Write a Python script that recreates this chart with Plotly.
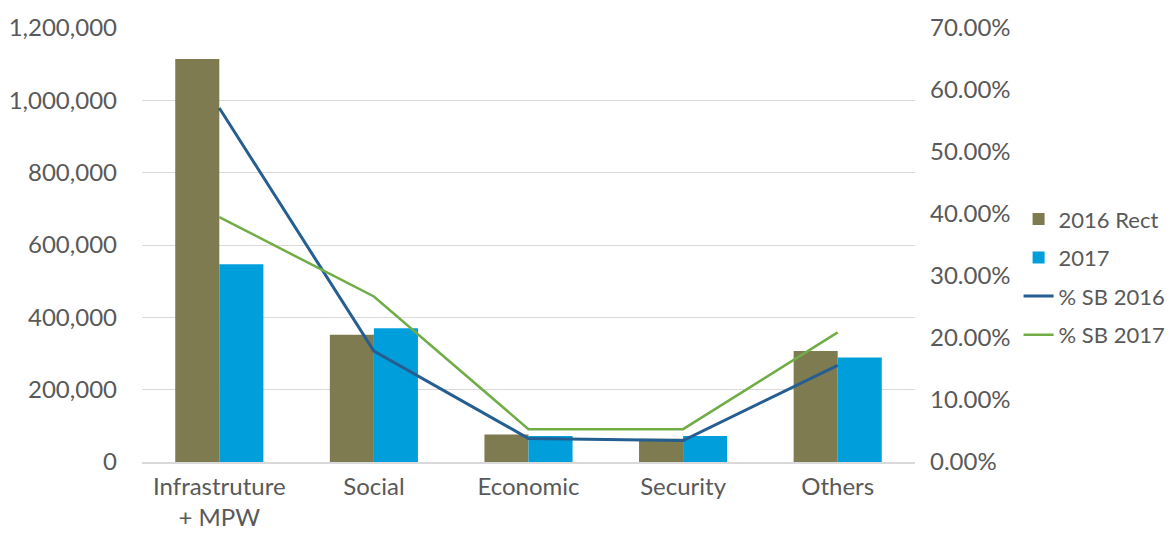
import plotly.graph_objects as go

categories = ["Infrastruture<br>+ MPW", "Social", "Economic", "Security", "Others"]
rect_2016 = [1114000, 352000, 76000, 64000, 307000]
budget_2017 = [547000, 370000, 72000, 72000, 289000]
pct_sb_2016 = [0.571, 0.179, 0.038, 0.0345, 0.156]
pct_sb_2017 = [0.395, 0.267, 0.053, 0.053, 0.209]

left_ticks = [0, 200000, 400000, 600000, 800000, 1000000, 1200000]
right_ticks = [0, 0.1, 0.2, 0.3, 0.4, 0.5, 0.6, 0.7]

font = dict(family="Lato, Carlito, Calibri, sans-serif", size=24, color="#595959")
legend_font = dict(family="Lato, Carlito, Calibri, sans-serif", size=22, color="#595959")

fig = go.Figure()
fig.add_bar(x=categories, y=rect_2016, name="2016 Rect", marker_color="#7F7B50",
            marker_line_width=0, legendgroup="a")
fig.add_bar(x=categories, y=budget_2017, name="2017", marker_color="#009FDB",
            marker_line_width=0, legendgroup="b")
fig.add_scatter(x=categories, y=pct_sb_2016, name="% SB 2016", yaxis="y2", mode="lines",
                line=dict(color="#255E91", width=3), legendgroup="c")
fig.add_scatter(x=categories, y=pct_sb_2017, name="% SB 2017", yaxis="y2", mode="lines",
                line=dict(color="#70AD47", width=2.5), legendgroup="d")

fig.update_layout(
    width=1160, height=522,
    margin=dict(l=134, r=253, t=20, b=68, autoexpand=False),
    paper_bgcolor="white", plot_bgcolor="white",
    font=font,
    barmode="group", bargap=0.43, bargroupgap=0,
    showlegend=True,
    legend=dict(x=1.134, xanchor="left", y=0.426, yanchor="middle",
                font=legend_font, tracegroupgap=7, bgcolor="rgba(0,0,0,0)",
                itemwidth=30),
    xaxis=dict(showline=True, linecolor="#D9D9D9", linewidth=2, ticks="",
               showgrid=False, tickfont=font, automargin=False, ticklabelstandoff=2),
    yaxis=dict(range=[0, 1200000], tickvals=left_ticks, tickformat=",d",
               showgrid=True, gridcolor="#D9D9D9", gridwidth=1.3, zeroline=False,
               showline=False, ticks="", ticklabelstandoff=24, tickfont=font,
               automargin=False),
    yaxis2=dict(range=[0, 0.7], tickvals=right_ticks, tickformat=".2%",
                overlaying="y", side="right", showgrid=False, zeroline=False,
                showline=False, ticks="", ticklabelstandoff=14, tickfont=font,
                automargin=False),
)

fig.write_html("out.html")
